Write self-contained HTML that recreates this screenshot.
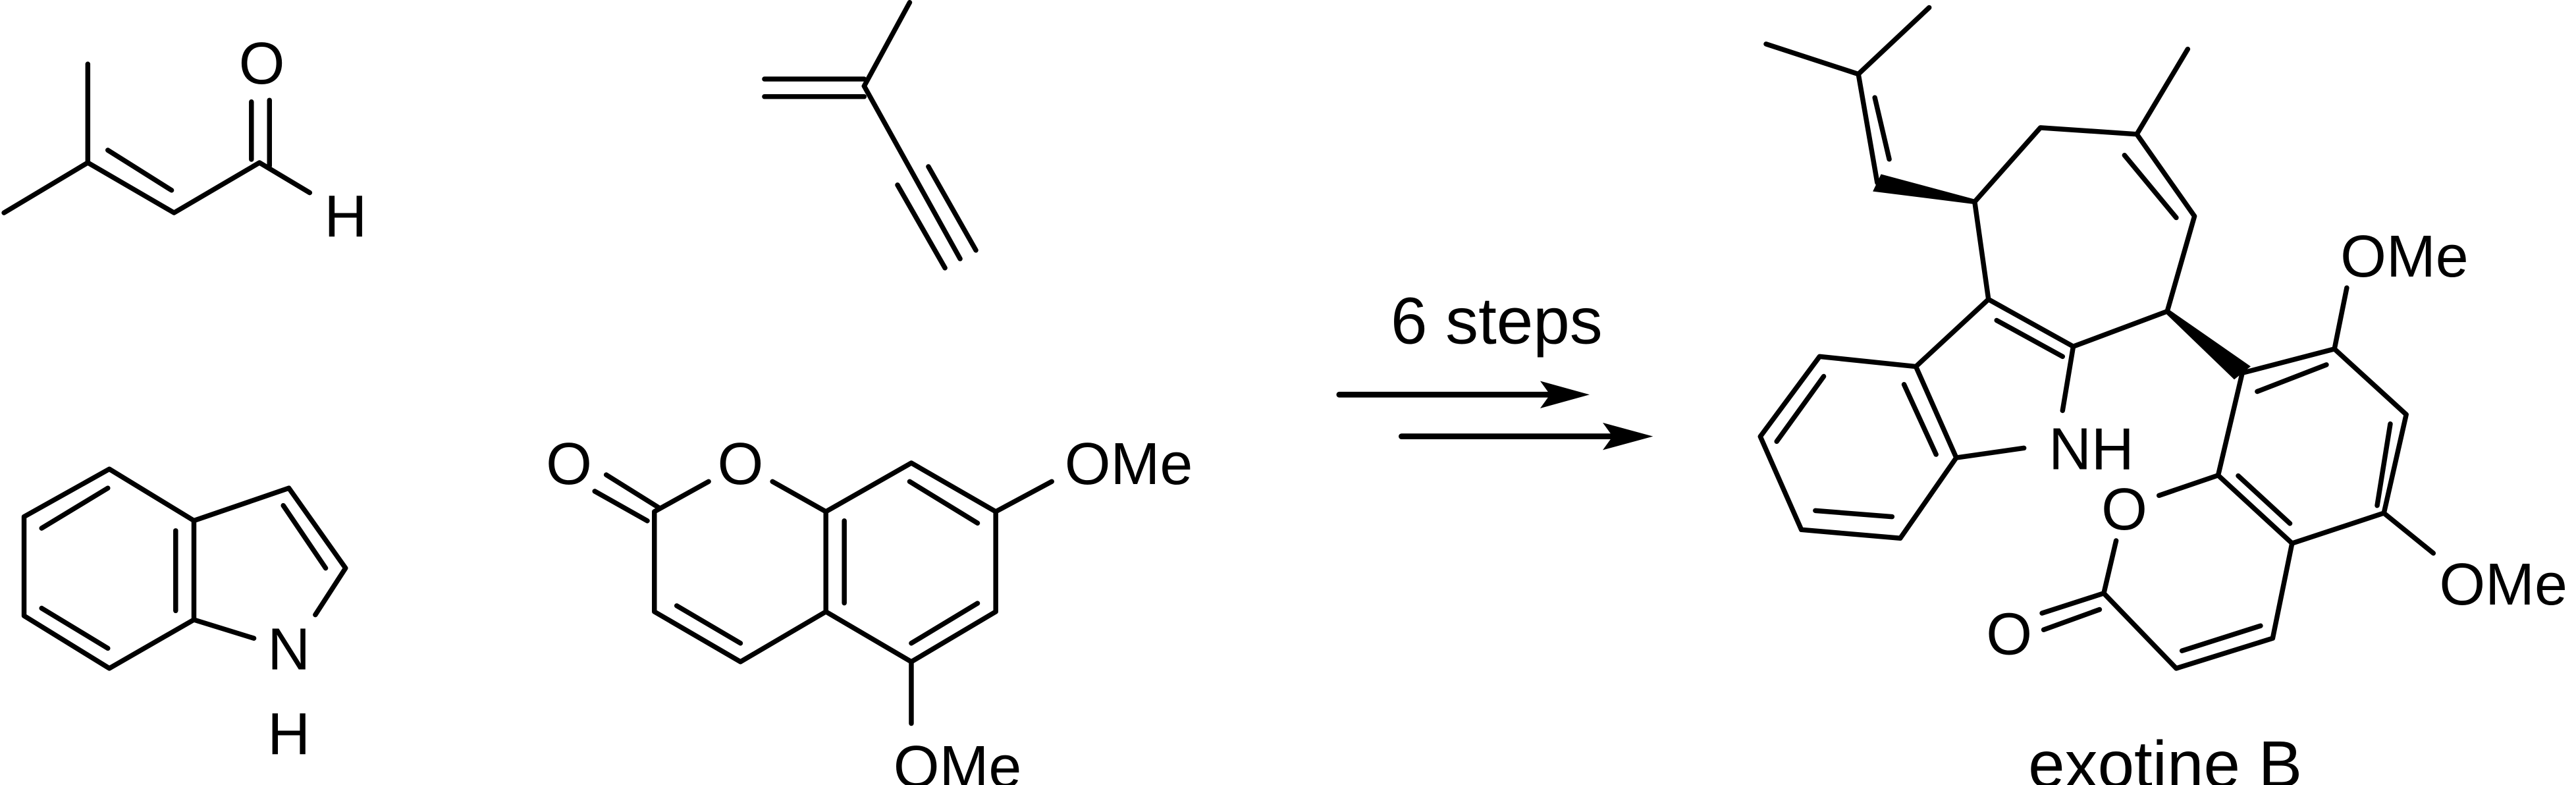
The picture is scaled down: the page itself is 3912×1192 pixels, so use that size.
<!DOCTYPE html>
<html><head><meta charset="utf-8"><style>
html,body{margin:0;padding:0;background:#fff;}
svg{display:block;}
text{font-family:"Liberation Sans",Arial,sans-serif;fill:#000;}
</style></head><body>
<svg width="3912" height="1192" viewBox="0 0 1568 477.8" xmlns="http://www.w3.org/2000/svg">
<g stroke="#000" stroke-width="3" stroke-linecap="round" stroke-linejoin="round" fill="none">
<!-- prenal -->
<polyline points="53.4,39 53.4,99 2.4,129.5"/>
<polyline points="53.4,99 105.9,129.5 157.9,99 188.5,117.3"/>
<line x1="65.6" y1="91.4" x2="104.4" y2="115.8"/>
<line x1="153" y1="62" x2="153" y2="97"/>
<line x1="164" y1="61" x2="164" y2="101"/>
<!-- isoprenyne -->
<line x1="553.7" y1="1.5" x2="526" y2="52.4"/>
<line x1="465.3" y1="48.1" x2="526" y2="48.1"/>
<line x1="465.3" y1="58.8" x2="526" y2="58.8"/>
<line x1="526" y1="52.4" x2="584.4" y2="157.5"/>
<line x1="546.3" y1="112.6" x2="575.2" y2="163.1"/>
<line x1="565.1" y1="101.4" x2="594" y2="152.3"/>
<!-- indole -->
<polygon points="66.5,285.5 14.6,314.5 14.6,374.8 66.5,406.8 118,377.2 118,316.9"/>
<polyline points="118,316.9 175.8,297.1 210.3,345.8 191.9,374.2"/>
<line x1="118" y1="377.2" x2="154.5" y2="388.5"/>
<line x1="25.3" y1="321.5" x2="65.6" y2="297.1"/>
<line x1="25.3" y1="370.2" x2="65.6" y2="394.6"/>
<line x1="106.9" y1="323" x2="106.9" y2="371.7"/>
<line x1="172.4" y1="307.7" x2="198.2" y2="345.8"/>
<!-- coumarin -->
<polyline points="431.3,293.1 398.3,311.4 398.3,372.3 450.7,402.8 502.7,372.3 502.7,311.4 470.2,293.1"/>
<polyline points="502.7,311.4 554.7,281.8 606.1,311.4 606.1,372.3 554.7,402.8 502.7,372.3"/>
<line x1="369" y1="289" x2="401" y2="309"/>
<line x1="362" y1="299" x2="394" y2="317"/>
<line x1="606.1" y1="311.4" x2="640.2" y2="293.1"/>
<line x1="554.7" y1="402.8" x2="554.7" y2="440.3"/>
<line x1="411.9" y1="368.7" x2="450.7" y2="391.5"/>
<line x1="513.9" y1="317" x2="513.9" y2="367"/>
<line x1="553.7" y1="293.1" x2="595" y2="318.4"/>
<line x1="554.7" y1="391.5" x2="595" y2="367.2"/>
<!-- arrows -->
<line x1="815.2" y1="240.2" x2="945" y2="240.2" stroke-width="3.5"/>
<line x1="853.1" y1="265.6" x2="982" y2="265.6" stroke-width="3.5"/>
<!-- product -->
<line x1="1174.3" y1="4.6" x2="1131.2" y2="45.1"/>
<line x1="1075" y1="26.8" x2="1131.2" y2="45.1"/>
<line x1="1131.2" y1="45.1" x2="1142.7" y2="111.2"/>
<line x1="1141.2" y1="59.4" x2="1150" y2="96.9"/>
<polyline points="1202,122.8 1242,77.7 1300.7,81.7 1335.8,131.6 1319.2,189.5 1262,210.9 1210.4,182.2 1202,122.8"/>
<line x1="1300.7" y1="81.7" x2="1331.7" y2="29.9"/>
<line x1="1293.2" y1="94.5" x2="1324.7" y2="132.5"/>
<line x1="1215.4" y1="195" x2="1255.5" y2="217"/>
<polyline points="1210.4,182.2 1166.2,223.1 1107.6,217 1071.5,265.7 1096.5,322.4 1156.7,327.6 1190.8,278.6 1166.2,223.1"/>
<line x1="1190.8" y1="278.6" x2="1232" y2="272.7"/>
<line x1="1262" y1="210.9" x2="1255.5" y2="249.9"/>
<line x1="1159" y1="234" x2="1178.5" y2="276.6"/>
<line x1="1110.1" y1="229.1" x2="1081.5" y2="268.7"/>
<line x1="1105" y1="310.8" x2="1151.7" y2="314.5"/>
<polyline points="1364.9,227 1421,212.4 1464.7,252.3 1451.1,312.3 1395.2,330.7 1350.2,289.3 1364.9,227"/>
<line x1="1421" y1="212.4" x2="1428.5" y2="175.2"/>
<line x1="1451.1" y1="312.3" x2="1481.2" y2="336.7"/>
<line x1="1374" y1="238.3" x2="1416.1" y2="222"/>
<line x1="1455" y1="258" x2="1447" y2="307.7"/>
<line x1="1362.4" y1="289.6" x2="1393.9" y2="318.6"/>
<line x1="1350.2" y1="289.3" x2="1314.2" y2="301.6"/>
<polyline points="1288.1,329.1 1280.6,361.1 1324.7,406.8 1383.4,388.5 1395.2,330.7"/>
<line x1="1280.6" y1="361.1" x2="1243" y2="373.2"/>
<line x1="1278" y1="371" x2="1244" y2="383.3"/>
<line x1="1328.2" y1="396.1" x2="1376" y2="380.9"/>
</g>
<g fill="#000" stroke="none">
<polygon points="967.6,240.2 937.5,231.9 943.5,240.2 937.5,248.5"/>
<polygon points="1006.2,265.6 975.6,257.3 981.6,265.6 975.6,273.9"/>
<polygon points="1202,121.3 1202,124.3 1140,116.5 1145,106"/>
<polygon points="1318,190.5 1320.4,188.5 1370,223 1360,231"/>
</g>
<g font-size="36" text-anchor="middle">
<text x="159.3" y="51">O</text>
<text x="210.3" y="144">H</text>
<text x="175.8" y="407.5">N</text>
<text x="175.8" y="459">H</text>
<text x="346.3" y="294.7">O</text>
<text x="450.7" y="294.7">O</text>
<text x="687" y="294.7">OMe</text>
<text x="582.8" y="479">OMe</text>
<text x="1273" y="285.6">NH</text>
<text x="1293.1" y="322.2">O</text>
<text x="1223" y="398.3">O</text>
<text x="1463.6" y="168.3">OMe</text>
<text x="1523.8" y="367.9">OMe</text>
<text x="911" y="209" font-size="40">6 steps</text>
<text x="1318" y="479" font-size="40">exotine B</text>
</g>
</svg>
</body></html>
